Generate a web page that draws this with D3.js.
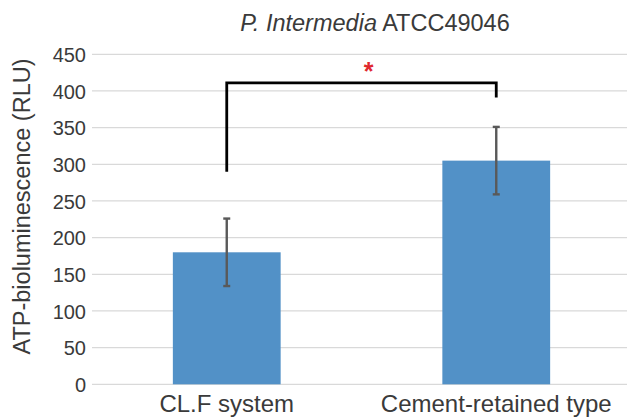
<!DOCTYPE html>
<html>
<head>
<meta charset="utf-8">
<script src="https://cdn.jsdelivr.net/npm/d3@7"></script>
<style>
  body { margin: 0; background: #fff; }
  svg text { font-family: "Liberation Sans", Arial, sans-serif; fill: #3a3a3a; }
</style>
</head>
<body>
<svg id="chart" width="627" height="420"></svg>
<script>
const categories = ["CL.F system", "Cement-retained type"];
const values = [180, 305];
const errors = [46, 46];
const yTicks = [0, 50, 100, 150, 200, 250, 300, 350, 400, 450];
const bracket = { left: 290, right: 391, top: 411 };
const titleItalic = "P. Intermedia";
const titleRest = " ATCC49046";
const yLabel = "ATP-bioluminescence (RLU)";

(function () {
const svg = d3.select("#chart");
const pLeft = 92, pRight = 631, pTop = 54.3, pBottom = 384.3;

const y = d3.scaleLinear().domain([0, 450]).range([pBottom, pTop]);
const x = d3.scaleBand().domain(categories).range([pLeft, pRight]).paddingInner(0.6).paddingOuter(0.3);

// gridlines
svg.append("g").selectAll("line").data(yTicks).join("line")
  .attr("x1", pLeft).attr("x2", 627)
  .attr("y1", d => y(d)).attr("y2", d => y(d))
  .attr("stroke", "#d9d9d9").attr("stroke-width", 1.3);

// y axis labels
const yAxis = d3.axisLeft(y).tickValues(yTicks).tickSize(0).tickPadding(6);
const ga = svg.append("g").attr("transform", `translate(${pLeft},0)`).call(yAxis);
ga.select(".domain").remove();
ga.selectAll("text").attr("font-size", 20).attr("fill", "#3a3a3a").attr("dy", "0.36em")
  .style("font-family", "'Liberation Sans', Arial, sans-serif");

// bars
svg.append("g").selectAll("rect").data(values).join("rect")
  .attr("x", (d, i) => x(categories[i]))
  .attr("width", x.bandwidth())
  .attr("y", d => y(d))
  .attr("height", d => y(0) - y(d))
  .attr("fill", "#5291c7");

// error bars
const eg = svg.append("g").attr("stroke", "#595959").attr("stroke-width", 2.4);
values.forEach((v, i) => {
  const cx = x(categories[i]) + x.bandwidth() / 2;
  eg.append("line").attr("x1", cx).attr("x2", cx).attr("y1", y(v - errors[i])).attr("y2", y(v + errors[i]));
  eg.append("line").attr("x1", cx - 3.5).attr("x2", cx + 3.5).attr("y1", y(v - errors[i])).attr("y2", y(v - errors[i]));
  eg.append("line").attr("x1", cx - 3.5).attr("x2", cx + 3.5).attr("y1", y(v + errors[i])).attr("y2", y(v + errors[i]));
});

// significance bracket
const c1 = x(categories[0]) + x.bandwidth() / 2;
const c2 = x(categories[1]) + x.bandwidth() / 2;
svg.append("path")
  .attr("d", `M${c1},${y(bracket.left)}V${y(bracket.top)}H${c2}V${y(bracket.right)}`)
  .attr("fill", "none").attr("stroke", "#000").attr("stroke-width", 2.8);
svg.append("text").attr("x", (c1 + c2) / 2 + 7).attr("y", y(bracket.top) - 3)
  .attr("text-anchor", "middle").attr("font-size", 25).style("font-weight", "bold")
  .style("fill", "#e0282e").text("*");

// x labels
svg.append("g").selectAll("text").data(categories).join("text")
  .attr("x", d => x(d) + x.bandwidth() / 2)
  .attr("y", 412)
  .attr("text-anchor", "middle").attr("font-size", 24).text(d => d);

// title
const t = svg.append("text").attr("x", 375).attr("y", 31).attr("text-anchor", "middle").attr("font-size", 23.5);
t.append("tspan").style("font-style", "italic").text(titleItalic);
t.append("tspan").text(titleRest);

// y label
svg.append("text").attr("transform", `translate(30,206.5) rotate(-90)`)
  .attr("text-anchor", "middle").attr("font-size", 23.5).text(yLabel);
})();
</script>
</body>
</html>
